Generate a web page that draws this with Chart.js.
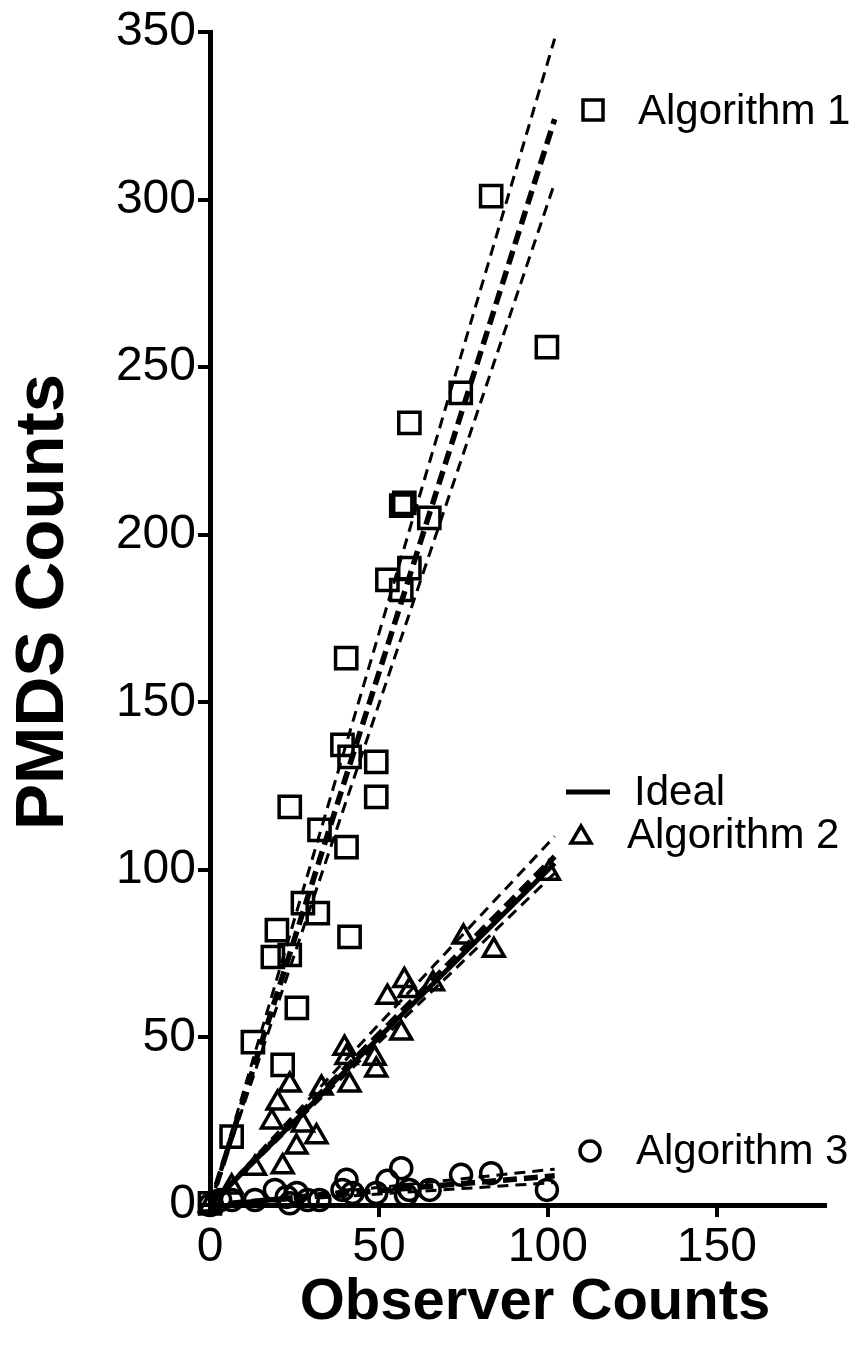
<!DOCTYPE html>
<html>
<head>
<meta charset="utf-8">
<script src="https://cdn.jsdelivr.net/npm/chart.js@4/dist/chart.umd.min.js"></script>
<style>
  html, body { margin: 0; padding: 0; background: #fff; }
  canvas { display: block; }
</style>
</head>
<body>
<canvas id="pmdsChart" width="857" height="1349"></canvas>
<script>
// pmds vs observer counts

// --------------------
// data
// --------------------
const alg1X = [0, 6.4, 12.7, 21.5, 25.7, 18.6, 23.6, 19.8, 27.5, 31.9, 41.3, 40.4, 32.4, 23.6, 49.2,
               49.2, 41.3, 39.2, 40.3, 56.6, 52.5, 59, 64.9, 56.6, 57.5, 59, 74.2, 83.2, 99.7];
const alg1Y = [0.5, 20.4, 48.6, 41.8, 58.8, 74, 74.6, 82, 90.1, 87.1, 80, 106.8, 111.9, 118.8, 121.8,
               132.2, 133.7, 137.3, 163.2, 183.5, 186.5, 190, 205, 208.7, 209.5, 233.4, 242.3, 301, 256];

const alg2X = [0, 6.4, 13.3, 21.5, 25.6, 31.5, 27.5, 18.3, 20, 23.6, 33, 41.3, 40.4, 39.8, 48.7,
               49.2, 56.6, 52.5, 57.5, 59, 66, 75, 84, 100.3];
const alg2Y = [0, 5.4, 11, 11.4, 17.3, 20.4, 23.9, 24.8, 30.4, 35.8, 34.9, 35.8, 44, 46.8, 43.8,
               40.3, 51.3, 62, 67, 64, 66, 80, 76, 99];

const alg3X = [0, 3, 6.5, 13.3, 19.2, 22.7, 23.6, 25.7, 28.9, 32.4, 39.2, 40.4, 42.2, 49.2, 52.5,
               56.6, 58, 59, 65, 74.3, 83.2, 99.7];
const alg3Y = [0, 1.5, 1.5, 1.5, 4.5, 2.4, 0.5, 3.6, 1.5, 1.5, 4.5, 7.5, 3.6, 3.6, 7.2,
               11, 3, 4.5, 4.5, 9, 9.5, 4.5];

// fitted lines (ends only) and the ideal line
const lineX = [0, 102];
const idealY = [0, 102];
const alg1Fit = [0, 324];
const alg1Upper = [0, 348];
const alg1Lower = [0, 305];
const alg2Fit = [0, 104];
const alg2Upper = [0, 110];
const alg2Lower = [0, 99];
const alg3Fit = [0, 8.7];
const alg3Upper = [0, 10.7];
const alg3Lower = [0, 6.7];

const xTicks = [0, 50, 100, 150];
const yTicks = [0, 50, 100, 150, 200, 250, 300, 350];

const xTitle = "Observer Counts";
const yTitle = "PMDS Counts";

const FONT = "Arial, 'Liberation Sans', Helvetica, sans-serif";

function pts(xs, ys) {
    return xs.map((x, i) => ({ x: x, y: ys[i] }));
}

function markers(xs, ys, style, radius) {
    return {
        data: pts(xs, ys),
        pointStyle: style,
        pointRadius: radius,
        pointBorderWidth: 3.5,
        pointBorderColor: "#000",
        pointBackgroundColor: "rgba(0,0,0,0)",
        showLine: false,
        clip: false
    };
}

function line(ys, width, dash) {
    return {
        data: pts(lineX, ys),
        showLine: true,
        borderColor: "#000",
        borderWidth: width,
        borderDash: dash,
        pointRadius: 0,
        clip: false
    };
}

// --------------------
// legend + axis titles drawn by hand, like the original
// --------------------
const legendItems = [
    { label: "Algorithm 1", mark: "rect", mx: 593, my: 110, tx: 638, ty: 112 },
    { label: "Ideal", mark: "line", mx: 588, my: 792, tx: 634, ty: 793 },
    { label: "Algorithm 2", mark: "triangle", mx: 581, my: 836, tx: 627, ty: 836 },
    { label: "Algorithm 3", mark: "circle", mx: 590, my: 1151, tx: 636, ty: 1152 }
];

const insideLegend = {
    id: "insideLegend",
    afterDraw(chart) {
        const c = chart.ctx;
        c.save();
        c.strokeStyle = "#000";
        c.fillStyle = "#000";
        legendItems.forEach(it => {
            c.lineWidth = 3.5;
            c.beginPath();
            if (it.mark === "rect") {
                c.rect(it.mx - 10, it.my - 10, 20, 20);
            } else if (it.mark === "triangle") {
                c.moveTo(it.mx, it.my - 10);
                c.lineTo(it.mx + 10, it.my + 7);
                c.lineTo(it.mx - 10, it.my + 7);
                c.closePath();
            } else if (it.mark === "circle") {
                c.arc(it.mx, it.my, 10, 0, Math.PI * 2);
            } else {
                c.lineWidth = 5;
                c.moveTo(it.mx - 22, it.my);
                c.lineTo(it.mx + 22, it.my);
            }
            c.stroke();
            c.font = "42px " + FONT;
            c.textAlign = "left";
            c.textBaseline = "middle";
            c.fillText(it.label, it.tx, it.ty);
        });

        // axis titles
        c.textAlign = "center";
        c.textBaseline = "middle";
        c.font = "bold 58px " + FONT;
        c.fillText(xTitle, 535, 1303);
        c.translate(44, 602);
        c.rotate(-Math.PI / 2);
        c.font = "bold 69px " + FONT;
        c.fillText(yTitle, 0, 0);
        c.restore();
    }
};

new Chart(document.getElementById("pmdsChart"), {
    type: "scatter",
    data: {
        datasets: [
            line(alg1Upper, 3, [11, 7]),
            line(alg1Lower, 3, [11, 7]),
            line(alg1Fit, 5.5, [14, 7]),
            line(alg2Upper, 3, [11, 7]),
            line(alg2Lower, 3, [11, 7]),
            line(alg2Fit, 5.5, [14, 7]),
            line(alg3Upper, 3, [11, 7]),
            line(alg3Lower, 3, [11, 7]),
            line(alg3Fit, 5.5, [14, 7]),
            Object.assign(line(idealY, 5, []), { label: "Ideal" }),
            Object.assign(markers(alg1X, alg1Y, "rect", 15), { label: "Algorithm 1" }),
            Object.assign(markers(alg2X, alg2Y, "triangle", 12), { label: "Algorithm 2" }),
            Object.assign(markers(alg3X, alg3Y, "circle", 10.5), { label: "Algorithm 3" })
        ]
    },
    options: {
        responsive: false,
        animation: false,
        events: [],
        layout: { padding: { top: 32, right: 32, left: 0, bottom: 0 } },
        plugins: {
            legend: { display: false },
            tooltip: { enabled: false }
        },
        scales: {
            x: {
                type: "linear",
                min: 0,
                max: 182,
                afterFit(s) { s.height = 144; },
                afterBuildTicks(s) { s.ticks = xTicks.map(v => ({ value: v })); },
                ticks: { color: "#000", font: { family: FONT, size: 48 }, padding: 2, maxRotation: 0 },
                grid: { drawOnChartArea: false, drawTicks: true, tickLength: 12, lineWidth: 4, color: "#000" },
                border: { display: true, width: 5, color: "#000" }
            },
            y: {
                type: "linear",
                min: 0,
                max: 350,
                afterFit(s) { s.width = 210; },
                afterBuildTicks(s) { s.ticks = yTicks.map(v => ({ value: v })); },
                ticks: { color: "#000", font: { family: FONT, size: 48 }, padding: 2 },
                grid: { drawOnChartArea: false, drawTicks: true, tickLength: 12, lineWidth: 4, color: "#000" },
                border: { display: true, width: 5, color: "#000" }
            }
        }
    },
    plugins: [insideLegend]
});
</script>
</body>
</html>
